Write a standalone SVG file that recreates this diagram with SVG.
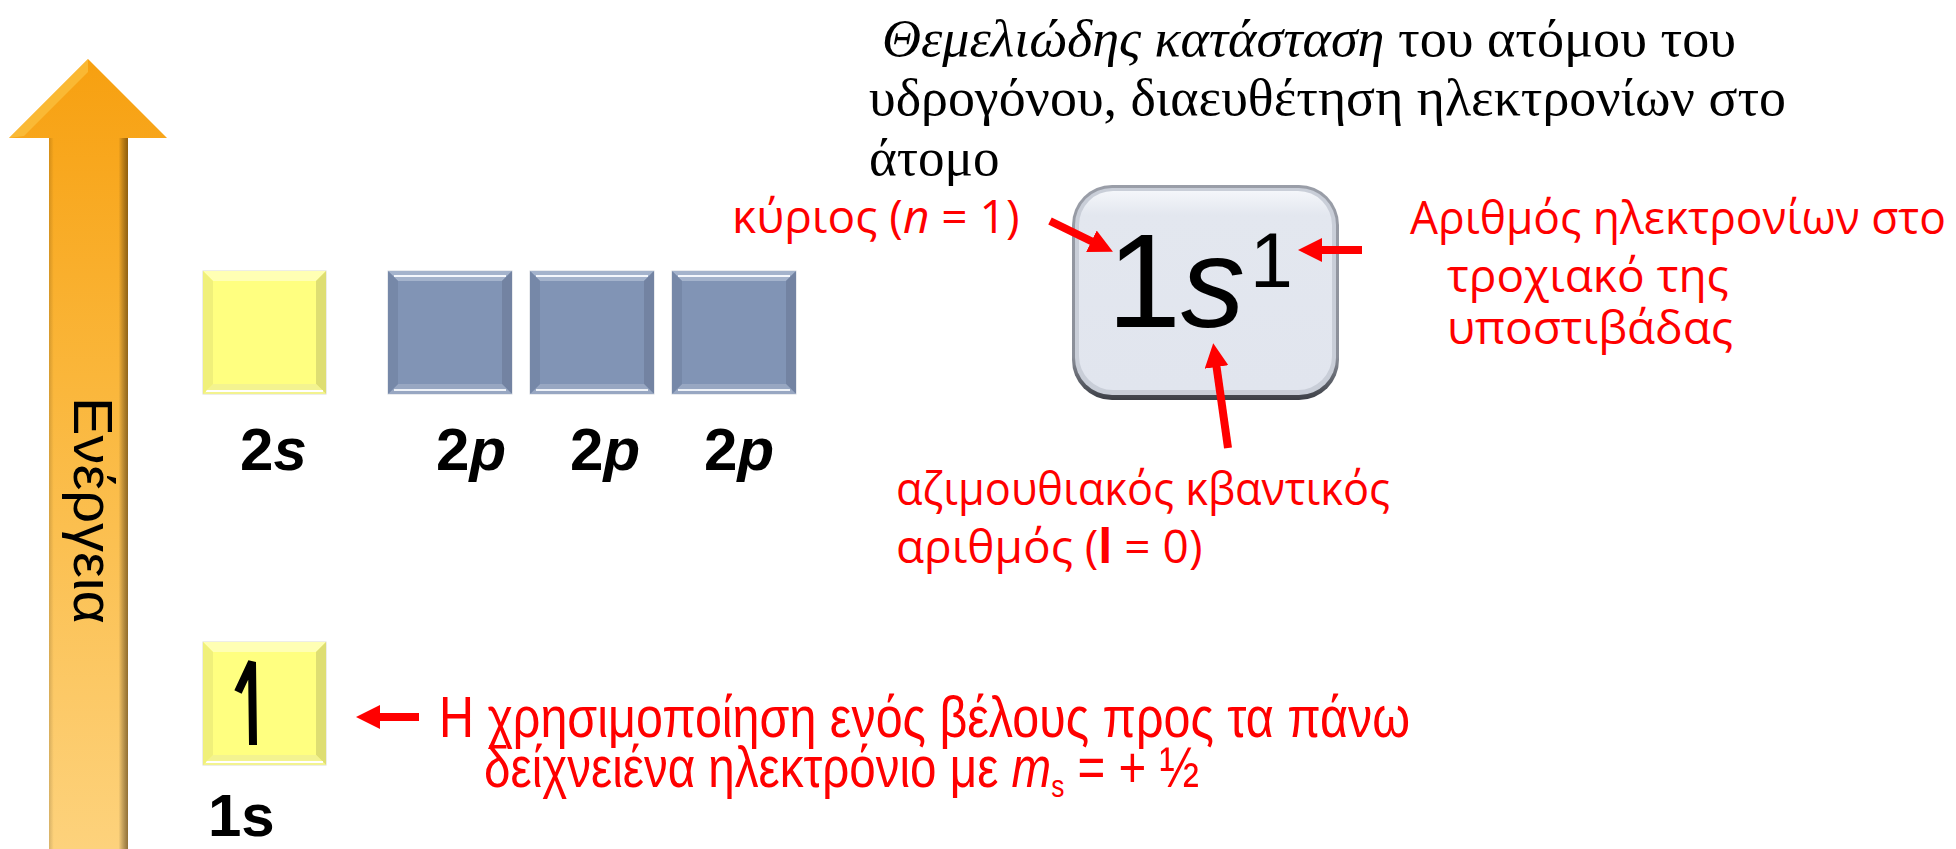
<svg xmlns="http://www.w3.org/2000/svg" xmlns:xlink="http://www.w3.org/1999/xlink" width="1956" height="849" viewBox="0 0 1956 849">
<style>
.red{fill:#ff0000;font-family:"Open Sans","Noto Sans",sans-serif;font-size:46px}
.lbl{fill:#000;font-family:"Liberation Sans",Arial,sans-serif;font-size:60px;font-weight:bold}
.title{fill:#000;font-family:"Liberation Serif","Times New Roman",serif;font-size:53px}
.conn{stroke:#ff0000;stroke-width:8;fill:none;marker-end:url(#ah)}
.cond{fill:#ff0000;font-family:"Liberation Sans",Arial,sans-serif;font-size:58px}
</style>
<defs>
<marker id="ah" viewBox="0 0 24 24" refX="4" refY="12" markerWidth="24" markerHeight="24" markerUnits="userSpaceOnUse" orient="auto">
<path d="M0,0 L24,12 L0,24 z" fill="#ff0000"/>
</marker>
<linearGradient id="arrV" x1="0" y1="0" x2="0" y2="1">
<stop offset="0" stop-color="#f7a010"/>
<stop offset="0.4" stop-color="#fab63a"/>
<stop offset="1" stop-color="#fdd27c"/>
</linearGradient>
<linearGradient id="arrH" x1="0" y1="0" x2="1" y2="0">
<stop offset="0" stop-color="#000" stop-opacity="0.15"/>
<stop offset="0.06" stop-color="#000" stop-opacity="0"/>
<stop offset="0.88" stop-color="#000" stop-opacity="0"/>
<stop offset="1" stop-color="#3a2200" stop-opacity="0.55"/>
</linearGradient>
<linearGradient id="boxEdge" x1="0" y1="0" x2="0" y2="1">
<stop offset="0" stop-color="#9a9ea8"/>
<stop offset="0.8" stop-color="#8a8e98"/>
<stop offset="1" stop-color="#3c3f46"/>
</linearGradient>
<linearGradient id="boxFace" x1="0" y1="0" x2="0" y2="1">
<stop offset="0" stop-color="#f4f6fa"/>
<stop offset="0.12" stop-color="#e3e7ef"/>
<stop offset="1" stop-color="#e1e5ee"/>
</linearGradient>
<g id="sqBlue">
<rect x="0" y="0" width="124" height="123" fill="#8093b4" stroke="#d4d8de" stroke-width="1"/>
<polygon points="0,0 124,0 114,10 10,10" fill="#a4b3cc"/>
<line x1="6" y1="5" x2="118" y2="5" stroke="#f4f7fc" stroke-width="2"/>
<polygon points="124,0 124,123 114,113 114,10" fill="#7383a2"/>
<polygon points="0,123 124,123 114,113 10,113" fill="#98a7c2"/>
<line x1="6" y1="119" x2="118" y2="119" stroke="#eef2f8" stroke-width="2"/>
<polygon points="0,0 0,123 10,113 10,10" fill="#7688a8"/>
<rect x="10" y="10" width="104" height="103" fill="#8194b5"/>
</g>
<g id="sqYellow">
<rect x="0" y="0" width="123" height="123" fill="#ffff80" stroke="#dcdcd0" stroke-width="1"/>
<polygon points="0,0 123,0 113,10 10,10" fill="#ffffb4"/>
<polygon points="123,0 123,123 113,113 113,10" fill="#dede72"/>
<polygon points="0,123 123,123 113,113 10,113" fill="#f3f390"/>
<line x1="3" y1="120" x2="120" y2="120" stroke="#ffffff" stroke-width="2"/>
<polygon points="0,0 0,123 10,113 10,10" fill="#f0f07a"/>
<rect x="10" y="10" width="103" height="103" fill="#ffff80"/>
</g>
</defs>
<rect width="1956" height="849" fill="#ffffff"/>

<g id="energy-arrow">
<polygon points="88,59 167,138 128,138 128,849 49,849 49,138 9,138" fill="url(#arrV)"/>
<rect x="49" y="138" width="79" height="711" fill="url(#arrH)"/>
<polygon points="88,59 9,138 24,136 88,72" fill="#fcc84a" opacity="0.6"/>
<text transform="translate(74,397) rotate(90)" x="0" y="0" font-family="Liberation Sans, Arial, sans-serif" font-size="56" fill="#000" textLength="227" lengthAdjust="spacingAndGlyphs">Ενέργεια</text>
</g>

<g id="orbital-2s">
<use xlink:href="#sqYellow" x="203" y="271"/>
<text class="lbl" x="240" y="470">2<tspan font-style="italic">s</tspan></text>
</g>
<g id="orbital-2p-1">
<use xlink:href="#sqBlue" x="388" y="271"/>
<text class="lbl" x="436" y="470">2<tspan font-style="italic">p</tspan></text>
</g>
<g id="orbital-2p-2">
<use xlink:href="#sqBlue" x="530" y="271"/>
<text class="lbl" x="570" y="470">2<tspan font-style="italic">p</tspan></text>
</g>
<g id="orbital-2p-3">
<use xlink:href="#sqBlue" x="672" y="271"/>
<text class="lbl" x="704" y="470">2<tspan font-style="italic">p</tspan></text>
</g>
<g id="orbital-1s">
<use xlink:href="#sqYellow" x="203" y="642"/>
<path d="M238,692 L252,662 L253,745" fill="none" stroke="#000" stroke-width="8"/>
<text class="lbl" x="208" y="836">1s</text>
</g>

<g id="title">
<text class="title" x="882" y="56" textLength="854" lengthAdjust="spacingAndGlyphs"><tspan font-style="italic">Θεμελιώδης κατάσταση</tspan> του ατόμου του</text>
<text class="title" x="869" y="115" textLength="917" lengthAdjust="spacingAndGlyphs">υδρογόνου, διαευθέτηση ηλεκτρονίων στο</text>
<text class="title" x="869" y="175">άτομο</text>
</g>

<g id="config-box">
<rect x="1072" y="185" width="267" height="215" rx="40" fill="url(#boxEdge)"/>
<rect x="1075" y="188" width="261" height="207" rx="37" fill="#c9ced8"/>
<rect x="1079" y="191" width="253" height="199" rx="34" fill="url(#boxFace)"/>
<text font-family="Liberation Sans, Arial, sans-serif" fill="#000">
<tspan x="1107" y="327" font-size="133">1</tspan><tspan x="1181" y="327" font-size="128" font-style="italic">s</tspan><tspan x="1250" y="287" font-size="77">1</tspan>
</text>
</g>

<g id="label-n">
<text class="red" x="732" y="233">κύριος (<tspan font-style="italic">n</tspan> = 1)</text>
</g>
<g id="label-electrons">
<text class="red" x="1410" y="234" textLength="536" lengthAdjust="spacingAndGlyphs">Αριθμός ηλεκτρονίων στο</text>
<text class="red" x="1447" y="292">τροχιακό της</text>
<text class="red" x="1447" y="344">υποστιβάδας</text>
</g>
<g id="label-l">
<text class="red" x="896" y="505" textLength="494" lengthAdjust="spacingAndGlyphs">αζιμουθιακός κβαντικός</text>
<text class="red" x="896" y="563">αριθμός (<tspan font-weight="bold">l</tspan> = 0)</text>
</g>
<g id="label-spin">
<text class="cond" x="439" y="737" textLength="971" lengthAdjust="spacingAndGlyphs">Η χρησιμοποίηση ενός βέλους προς τα πάνω</text>
<g transform="translate(484,787) scale(0.82,1)">
<text class="cond" x="0" y="0">δείχνειένα ηλεκτρόνιο με <tspan font-style="italic">m</tspan><tspan font-size="32" dy="10">s</tspan><tspan dy="-10"> = + ½</tspan></text>
</g>
</g>

<g id="connectors">
<line class="conn" x1="1050" y1="221" x2="1095" y2="243"/>
<line class="conn" x1="1362" y1="250" x2="1318" y2="250"/>
<line class="conn" x1="1228" y1="448" x2="1216" y2="363"/>
<line class="conn" x1="419" y1="717" x2="376" y2="717"/>
</g>
</svg>
